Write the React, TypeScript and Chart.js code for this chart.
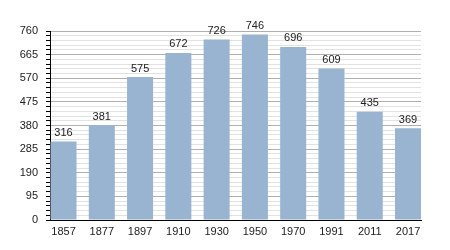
import React, { useEffect, useRef } from "react";
import { Chart, registerables } from "chart.js";

Chart.register(...registerables);

const years = ["1857", "1877", "1897", "1910", "1930", "1950", "1970", "1991", "2011", "2017"];
const population = [316, 381, 575, 672, 726, 746, 696, 609, 435, 369];
const yMajorStep = 95;
const yMinorStep = 19;
const yMax = 760;

const FONT = "'Liberation Sans', Arial, sans-serif";

const valueLabels = {
  id: "valueLabels",
  afterDatasetsDraw(chart: any) {
    const ctx = chart.ctx;
    const meta = chart.getDatasetMeta(0);
    ctx.save();
    ctx.font = `11px ${FONT}`;
    ctx.fillStyle = "#222";
    ctx.textAlign = "center";
    ctx.textBaseline = "bottom";
    meta.data.forEach((el: any, i: number) => {
      ctx.fillText(String(population[i]), el.x, el.y - 3);
    });
    ctx.restore();
  },
};

export default function App() {
  const ref = useRef<HTMLCanvasElement>(null);
  useEffect(() => {
    if (!ref.current) return;
    const chart = new Chart(ref.current, {
      type: "bar",
      data: {
        datasets: [
          {
            data: population.map((v, i) => ({ x: i, y: v })),
            backgroundColor: "#98b4d0",
            borderWidth: 0,
            barPercentage: 0.68,
            categoryPercentage: 1,
          },
        ],
      },
      options: {
        animation: false,
        responsive: false,
        maintainAspectRatio: false,
        layout: { padding: { top: 31, right: 29, bottom: 0, left: 0 } },
        plugins: { legend: { display: false }, tooltip: { enabled: false } },
        scales: {
          x: {
            type: "linear",
            offset: false,
            min: -0.353,
            max: 9.339,
            afterBuildTicks: (scale: any) => {
              scale.ticks = years.map((_, i) => ({ value: i }));
            },
            afterFit: (scale: any) => {
              scale.height = 30;
            },
            grid: { display: false, drawTicks: false, offset: false },
            border: { display: true, color: "#000", width: 1 },
            ticks: {
              padding: 5,
              color: "#222",
              font: { family: FONT, size: 11 },
              autoSkip: false,
              maxRotation: 0,
              callback: (v: any) => years[Math.round(Number(v))] ?? "",
            },
          },
          y: {
            min: 0,
            max: yMax,
            afterFit: (scale: any) => {
              scale.width = 50;
            },
            border: { display: true, color: "#000", width: 1 },
            grid: {
              color: (c: any) => (c.tick && c.tick.value % yMajorStep === 0 ? "#b0b0b0" : "#e2e2e2"),
              tickColor: "#000",
              tickLength: 4,
              lineWidth: 1,
            },
            ticks: {
              stepSize: yMinorStep,
              maxTicksLimit: 100,
              autoSkip: false,
              padding: 8,
              color: "#222",
              font: { family: FONT, size: 11 },
              callback: (v: any) => (Number(v) % yMajorStep === 0 ? String(v) : ""),
            },
          },
        },
      },
      plugins: [valueLabels],
    } as any);
    return () => chart.destroy();
  }, []);
  return (
    <div style={{ position: "fixed", left: 0, top: 0, width: 450, height: 250, background: "#fff" }}>
      <canvas ref={ref} width={450} height={250} style={{ width: 450, height: 250 }} />
    </div>
  );
}
